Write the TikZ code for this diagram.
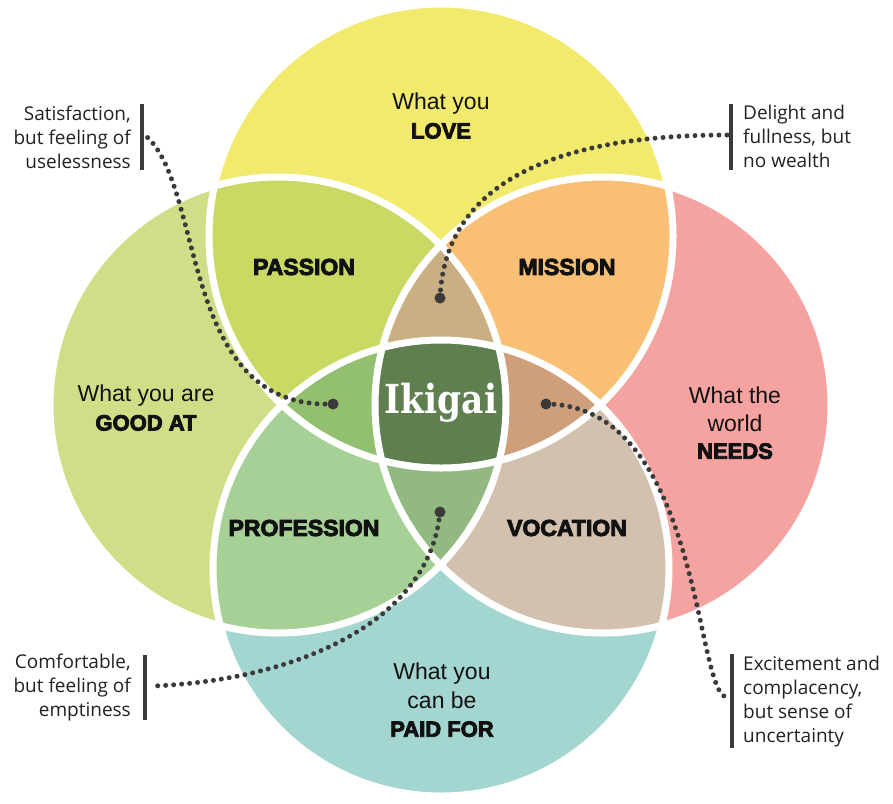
\documentclass[tikz,border=0pt]{standalone}
\usepackage{fontspec}
\setmainfont{Liberation Sans}
\newfontfamily\notefont{Open Sans}
\newfontfamily\heavyfont[FakeBold=4]{Liberation Sans Bold}
\newfontfamily\ikifont{DejaVu Serif Bold}
\definecolor{cT}{HTML}{F2EA6C}
\definecolor{cL}{HTML}{D1DE88}
\definecolor{cR}{HTML}{F5A3A0}
\definecolor{cB}{HTML}{A3D6D0}
\definecolor{cTL}{HTML}{C9D963}
\definecolor{cTR}{HTML}{F9BF75}
\definecolor{cBL}{HTML}{A7D096}
\definecolor{cBR}{HTML}{D2C1AE}
\definecolor{cTLR}{HTML}{C9AF82}
\definecolor{cTLB}{HTML}{93C06E}
\definecolor{cTRB}{HTML}{CE9F7A}
\definecolor{cLRB}{HTML}{93B982}
\definecolor{cAll}{HTML}{5F7F4F}
\definecolor{dotgray}{HTML}{3A3A3A}
\definecolor{notegray}{HTML}{222222}
\definecolor{ink}{HTML}{111111}
\begin{document}
\begin{tikzpicture}[x=1pt,y=-1pt,
  ring/.style={draw=white, line width=7pt},
  dotline/.style={draw=dotgray, line width=5pt, line cap=round, dash pattern=on 0pt off 8pt},
  enddot/.style={circle, fill=dotgray, minimum size=11pt, inner sep=0pt},
  notebar/.style={draw=dotgray, line width=4pt},
  note/.style={font=\notefont\fontsize{19}{24}\selectfont, text=notegray, inner sep=0pt},
  head/.style={font=\fontsize{23}{28.5}\selectfont, align=center, text=ink, inner sep=0pt},
  zone/.style={font=\heavyfont\fontsize{23}{28}\selectfont, text=ink, inner sep=0pt},
  iki/.style={font=\ikifont\fontsize{40}{44}\selectfont, text=white, inner sep=0pt}]
\useasboundingbox (0,0) rectangle (893,803);
\fill[white] (0,0) rectangle (893,803);
\coordinate (T) at (441,236);
\coordinate (L) at (278,405);
\coordinate (R) at (603,405);
\coordinate (B) at (441,568);
\def\rT{232pt}
\def\rO{228pt}
% single circles
\fill[cT] (T) circle (\rT);
\fill[cL] (L) circle (\rO);
\fill[cR] (R) circle (\rO);
\fill[cB] (B) circle (\rO);
% pairs
\begin{scope}
  \clip (T) circle (\rT);
  \fill[cTL] (L) circle (\rO);
  \fill[cTR] (R) circle (\rO);
\end{scope}
\begin{scope}
  \clip (B) circle (\rO);
  \fill[cBL] (L) circle (\rO);
  \fill[cBR] (R) circle (\rO);
\end{scope}
% triples
\begin{scope}
  \clip (T) circle (\rT);
  \clip (L) circle (\rO);
  \fill[cTLR] (R) circle (\rO);
  \fill[cTLB] (B) circle (\rO);
\end{scope}
\begin{scope}
  \clip (B) circle (\rO);
  \clip (R) circle (\rO);
  \fill[cTRB] (T) circle (\rT);
  \fill[cLRB] (L) circle (\rO);
\end{scope}
% all four
\begin{scope}
  \clip (T) circle (\rT);
  \clip (L) circle (\rO);
  \clip (R) circle (\rO);
  \fill[cAll] (B) circle (\rO);
\end{scope}
% white rings
\draw[ring] (T) circle (\rT);
\draw[ring] (L) circle (\rO);
\draw[ring] (R) circle (\rO);
\draw[ring] (B) circle (\rO);
% labels
\node[head] (love) at (441,116) {What you\\{\heavyfont\fontsize{22}{28.5}\selectfont LOVE}};
\node[head] (good) at (146,408) {What you are\\{\heavyfont\fontsize{22}{28.5}\selectfont GOOD AT}};
\node[head, font=\fontsize{23}{27.5}\selectfont] (needs) at (735,423) {What the\\world\\{\heavyfont\fontsize{22}{27.5}\selectfont NEEDS}};
\node[head] (paid) at (442,700) {What you\\can be\\{\heavyfont\fontsize{22}{28.5}\selectfont PAID FOR}};
\node[zone] (passion) at (304,267) {PASSION};
\node[zone] (mission) at (567,267) {MISSION};
\node[zone] (profession) at (304,528) {PROFESSION};
\node[zone] (vocation) at (567,528) {VOCATION};
\node[iki] (ikigai) at (441,403) {\scalebox{0.86}[1]{Ikigai}};
% notes and bars
\node[note, anchor=east, align=right] (n1) at (131,137) {Satisfaction,\\but feeling of\\uselessness};
\node[note, anchor=west, align=left] (n2) at (743,136) {Delight and\\fullness, but\\no wealth};
\node[note, anchor=east, align=right] (n3) at (131,688) {Comfortable,\\but feeling of\\emptiness};
\node[note, anchor=west, align=left] (n4) at (743,702) {Excitement and\\complacency,\\but sense of\\uncertainty};
\coordinate (b1t) at (142,104); \coordinate (b1b) at (142,170);
\coordinate (b2t) at (731,104); \coordinate (b2b) at (731,170);
\coordinate (b3t) at (145,655); \coordinate (b3b) at (145,720);
\coordinate (b4t) at (732,654); \coordinate (b4b) at (732,748);
\draw[notebar] (b1t) -- (b1b);
\draw[notebar] (b2t) -- (b2b);
\draw[notebar] (b3t) -- (b3b);
\draw[notebar] (b4t) -- (b4b);
% connectors
\node[enddot] (d1) at (333,404) {};
\node[enddot] (d2) at (440,298) {};
\node[enddot] (d3) at (440,512) {};
\node[enddot] (d4) at (546,404) {};
\coordinate (e1) at (147,137);
\coordinate (e2) at (727,135);
\coordinate (e3) at (153,686);
\coordinate (e4) at (726,697);
\draw[dotline] (d1.center) .. controls (180,410) and (205,190) .. (e1);
\draw[dotline] (d2.center) .. controls (445,180) and (560,135) .. (e2);
\draw[dotline] (d3.center) .. controls (430,620) and (300,680) .. (e3);
\draw[dotline] (d4.center) .. controls (700,405) and (695,690) .. (e4);
\end{tikzpicture}
\end{document}
